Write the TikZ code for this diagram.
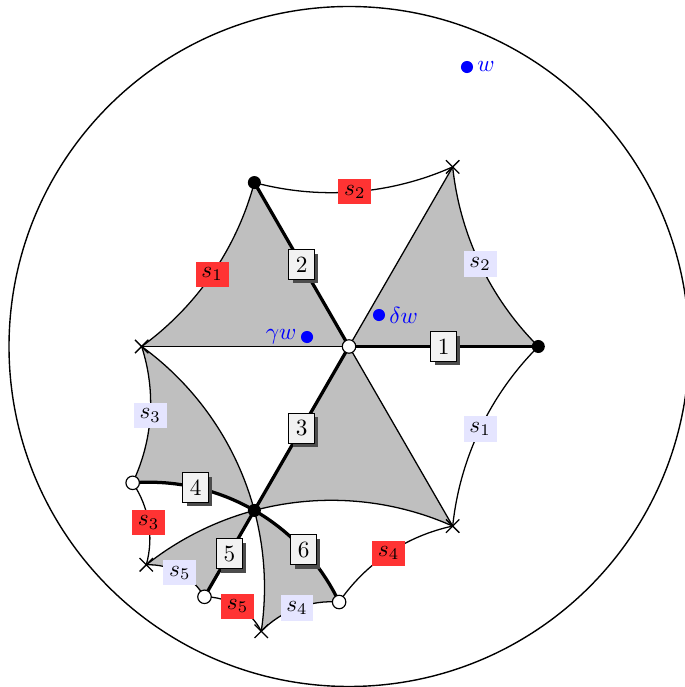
\documentclass[tikz,border=0pt]{standalone}
\usetikzlibrary{shapes.misc,shadows}
% hyperbolic geodesic (Poincare disk, unit radius) between (#2,#3) and (#4,#5)
\newcommand\defgeo[5]{%
  \pgfmathsetmacro\hgsa{(#2)*(#2)+(#3)*(#3)+1}%
  \pgfmathsetmacro\hgsb{(#4)*(#4)+(#5)*(#5)+1}%
  \pgfmathsetmacro\hgdet{(#2)*(#5)-(#4)*(#3)}%
  \pgfmathsetmacro\hgmx{(0.5*\hgsa*(#5)-0.5*\hgsb*(#3))/\hgdet}%
  \pgfmathsetmacro\hgmy{(0.5*\hgsb*(#2)-0.5*\hgsa*(#4))/\hgdet}%
  \pgfmathsetmacro\hgr{sqrt((\hgmx)*(\hgmx)+(\hgmy)*(\hgmy)-1)}%
  \pgfmathsetmacro\hga{atan2((#3)-(\hgmy),(#2)-(\hgmx))}%
  \pgfmathsetmacro\hgb{atan2((#5)-(\hgmy),(#4)-(\hgmx))}%
  \pgfmathsetmacro\hgb{((\hgb)-(\hga)>180) ? ((\hgb)-360) : (((\hga)-(\hgb)>180) ? ((\hgb)+360) : (\hgb))}%
  \pgfmathsetmacro\hgc{((\hga)+(\hgb))/2}%
  \expandafter\xdef\csname gfw@#1\endcsname{arc[start angle=\hga,end angle=\hgb,radius=\hgr]}%
  \expandafter\xdef\csname gbw@#1\endcsname{arc[start angle=\hgb,end angle=\hga,radius=\hgr]}%
  \coordinate (#1) at ({\hgmx+\hgr*cos(\hgc)},{\hgmy+\hgr*sin(\hgc)});%
}
\newcommand\gfw[1]{\csname gfw@#1\endcsname}
\newcommand\gbw[1]{\csname gbw@#1\endcsname}
\tikzset{
  tilefill/.style={fill=gray!50},
  thinedge/.style={line width=0.55pt},
  thickedge/.style={line width=1.4pt},
  numbox/.style={draw, line width=0.5pt, fill=gray!10, inner sep=3pt,
    drop shadow={opacity=1, fill=black!70, shadow xshift=1.7pt, shadow yshift=-1.7pt}},
  redlab/.style={fill=red!80, inner sep=2.5pt},
  bluelab/.style={fill=blue!10, inner sep=2.5pt},
  bdot/.style={circle, fill=black, inner sep=0pt, minimum size=5.6pt},
  wdot/.style={circle, draw, line width=0.5pt, fill=white, inner sep=0pt, minimum size=5.8pt},
  xmark/.style={cross out, draw, line width=0.55pt, inner sep=0pt, minimum size=5.2pt},
  bluedot/.style={circle, fill=blue, inner sep=0pt, minimum size=5.2pt},
  bluetext/.style={text=blue, inner sep=1.5pt},
}
\begin{document}
\begin{tikzpicture}[scale=5.1384]
\useasboundingbox (-1.0265,-1.0015) rectangle (0.9853,1.0191);
% vertices
\coordinate (O) at (0,0);
\coordinate (A) at (0.5567,0);
\coordinate (B) at (-0.27835,0.48211);
\coordinate (D) at (-0.27835,-0.48211);
\coordinate (C1) at (0.3049,0.5281);
\coordinate (C2) at (-0.6098,0);
\coordinate (C3) at (0.3049,-0.5281);
\coordinate (E) at (-0.63622,-0.40093);
\coordinate (F) at (-0.59618,-0.64203);
\coordinate (G) at (-0.42499,-0.73610);
\coordinate (H) at (-0.25793,-0.83732);
\coordinate (I) at (-0.02911,-0.75144);
% geodesic arcs
\defgeo{aBC1}{-0.27835}{0.48211}{0.3049}{0.5281}
\defgeo{aC1A}{0.3049}{0.5281}{0.5567}{0}
\defgeo{aAC3}{0.5567}{0}{0.3049}{-0.5281}
\defgeo{aDC3}{-0.27835}{-0.48211}{0.3049}{-0.5281}
\defgeo{aDC2}{-0.27835}{-0.48211}{-0.6098}{0}
\defgeo{aC2B}{-0.6098}{0}{-0.27835}{0.48211}
\defgeo{aC2E}{-0.6098}{0}{-0.63622}{-0.40093}
\defgeo{aEF}{-0.63622}{-0.40093}{-0.59618}{-0.64203}
\defgeo{aFG}{-0.59618}{-0.64203}{-0.42499}{-0.73610}
\defgeo{aGH}{-0.42499}{-0.73610}{-0.25793}{-0.83732}
\defgeo{aHI}{-0.25793}{-0.83732}{-0.02911}{-0.75144}
\defgeo{aIC3}{-0.02911}{-0.75144}{0.3049}{-0.5281}
\defgeo{aDE}{-0.27835}{-0.48211}{-0.63622}{-0.40093}
\defgeo{aDF}{-0.27835}{-0.48211}{-0.59618}{-0.64203}
\defgeo{aDH}{-0.27835}{-0.48211}{-0.25793}{-0.83732}
\defgeo{aDI}{-0.27835}{-0.48211}{-0.02911}{-0.75144}
% gray tiles
\fill[tilefill] (O) -- (B) \gbw{aC2B} -- cycle;
\fill[tilefill] (O) -- (C1) \gfw{aC1A} -- cycle;
\fill[tilefill] (O) -- (D) \gfw{aDC3} -- cycle;
\fill[tilefill] (D) \gfw{aDC2} \gfw{aC2E} \gbw{aDE} -- cycle;
\fill[tilefill] (D) \gfw{aDF} \gfw{aFG} -- cycle;
\fill[tilefill] (D) \gfw{aDH} \gfw{aHI} \gbw{aDI} -- cycle;
% thin edges
\draw[thinedge] (O) -- (C1);
\draw[thinedge] (O) -- (C2);
\draw[thinedge] (O) -- (C3);
\draw[thinedge] (B) \gfw{aBC1};
\draw[thinedge] (C1) \gfw{aC1A};
\draw[thinedge] (A) \gfw{aAC3};
\draw[thinedge] (D) \gfw{aDC3};
\draw[thinedge] (D) \gfw{aDC2};
\draw[thinedge] (C2) \gfw{aC2B};
\draw[thinedge] (C2) \gfw{aC2E};
\draw[thinedge] (E) \gfw{aEF};
\draw[thinedge] (F) \gfw{aFG};
\draw[thinedge] (G) \gfw{aGH};
\draw[thinedge] (H) \gfw{aHI};
\draw[thinedge] (I) \gfw{aIC3};
\draw[thinedge] (D) \gfw{aDF};
\draw[thinedge] (D) \gfw{aDH};
% thick edges
\draw[thickedge] (O) -- (A);
\draw[thickedge] (O) -- (B);
\draw[thickedge] (O) -- (D);
\draw[thickedge] (D) \gfw{aDE};
\draw[thickedge] (D) -- (G);
\draw[thickedge] (D) \gfw{aDI};
% boundary circle
\draw[line width=0.6pt] (O) circle[radius=1];
% edge labels
\path (O) -- (A) node[numbox, midway] (n1) {1};
\path (O) -- (B) node[numbox, midway] (n2) {2};
\path (O) -- (D) node[numbox, midway] (n3) {3};
\node[numbox] (n4) at (aDE) {4};
\path (D) -- (G) node[numbox, midway] (n5) {5};
\node[numbox] (n6) at (aDI) {6};
\node[redlab] (r1) at (aC2B) {$s_1$};
\node[redlab] (r2) at (aBC1) {$s_2$};
\node[redlab] (r3) at (aEF) {$s_3$};
\node[redlab] (r4) at (aIC3) {$s_4$};
\node[redlab] (r5) at (aGH) {$s_5$};
\node[bluelab] (l2) at (aC1A) {$s_2$};
\node[bluelab] (l1) at (aAC3) {$s_1$};
\node[bluelab] (l3) at (aC2E) {$s_3$};
\node[bluelab] (l5) at (aFG) {$s_5$};
\node[bluelab] (l4) at (aHI) {$s_4$};
% vertex marks
\node[bdot] (vA) at (A) {};
\node[bdot] (vB) at (B) {};
\node[bdot] (vD) at (D) {};
\node[wdot] (vO) at (O) {};
\node[wdot] (vE) at (E) {};
\node[wdot] (vG) at (G) {};
\node[wdot] (vI) at (I) {};
\node[xmark] (vC1) at (C1) {};
\node[xmark] (vC2) at (C2) {};
\node[xmark] (vC3) at (C3) {};
\node[xmark] (vF) at (F) {};
\node[xmark] (vH) at (H) {};
% points
\node[bluedot, label={[bluetext]right:$w$}] (w) at (0.3470,0.8220) {};
\node[bluedot, label={[bluetext]right:$\delta w$}] (dw) at (0.0882,0.0926) {};
\node[bluedot, label={[bluetext]left:$\gamma w$}] (gw) at (-0.1235,0.0279) {};
\end{tikzpicture}
\end{document}
